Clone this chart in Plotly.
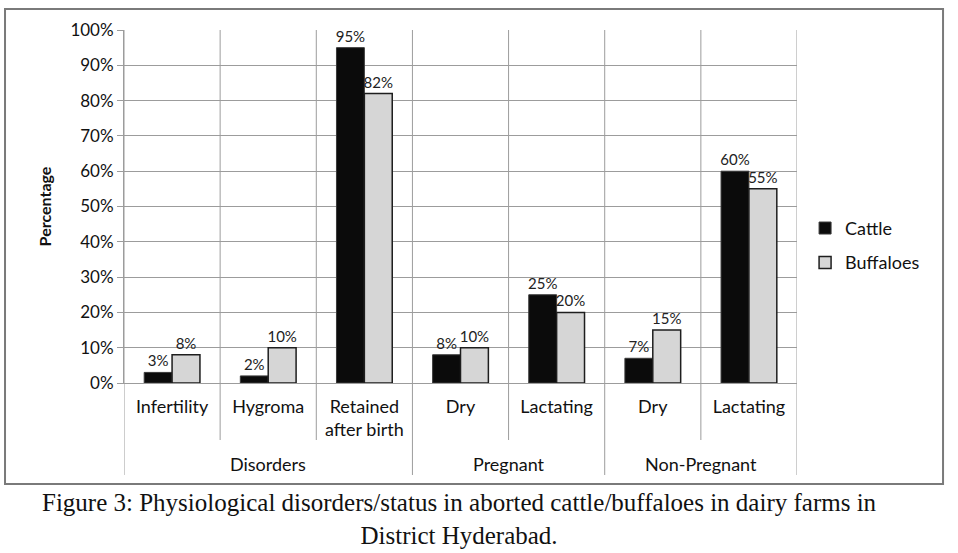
import plotly.graph_objects as go

groups = ["Disorders", "Disorders", "Disorders", "Pregnant", "Pregnant", "Non-Pregnant", "Non-Pregnant"]
subcats = ["Infertility", "Hygroma", "Retained<br>after birth", "Dry", "Lactating", "Dry", "Lactating"]
cattle = [3, 2, 95, 8, 25, 7, 60]
buffaloes = [8, 10, 82, 10, 20, 15, 55]

caption = ("Figure 3: Physiological disorders/status in aborted cattle/buffaloes in dairy farms in"
           "<br>District Hyderabad.")

sans = "Lato, Liberation Sans, sans-serif"
serif = "Liberation Serif, DejaVu Serif, serif"
grid = "#9c9c9c"

pos = list(range(len(subcats)))

fig = go.Figure()
fig.add_trace(go.Bar(
    name="Cattle", x=pos, y=[v / 100 for v in cattle], legendgroup="cattle",
    text=[f"{v}%" for v in cattle], textposition="outside",
    marker=dict(color="#0b0b0b", line=dict(color="#3a3a3a", width=1)),
    textfont=dict(family=sans, size=15, color="#222"), cliponaxis=False,
))
fig.add_trace(go.Bar(
    name="Buffaloes", x=pos, y=[v / 100 for v in buffaloes], legendgroup="buffaloes",
    text=[f"{v}%" for v in buffaloes], textposition="outside",
    marker=dict(color="#d6d6d6", line=dict(color="#1e1e1e", width=1.5)),
    textfont=dict(family=sans, size=15, color="#222"), cliponaxis=False,
))

fig.update_layout(
    width=958, height=553,
    margin=dict(l=124, r=161, t=30, b=170, autoexpand=False),
    paper_bgcolor="white", plot_bgcolor="white",
    barmode="group", bargap=0.42, bargroupgap=0,
    font=dict(family=sans, size=17, color="#111"),
    showlegend=True,
    legend=dict(x=1.012, y=0.39, yanchor="middle", xanchor="left",
                font=dict(family=sans, size=18, color="#111"),
                itemwidth=30, tracegroupgap=8),
    uniformtext=dict(minsize=15, mode="show"),
)

fig.update_yaxes(
    range=[0, 1], dtick=0.1, tickformat=".0%",
    showgrid=True, gridcolor=grid, gridwidth=1,
    showline=True, linecolor=grid, linewidth=1,
    ticks="outside", ticklen=6, tickcolor=grid,
    tickfont=dict(family=sans, size=17, color="#111"),
    title=dict(text="<b>Percentage</b>", font=dict(family=sans, size=16, color="#111"), standoff=14),
    zeroline=False,
)
fig.update_xaxes(
    range=[-0.5, len(subcats) - 0.5],
    tickvals=pos, ticktext=subcats, ticks="",
    showgrid=False, zeroline=False,
    showline=True, linecolor=grid, linewidth=1,
    tickfont=dict(family=sans, size=18, color="#111"),
    ticklabelstandoff=7,
)

# category boundaries: short lines between sub-categories, long ones between groups
inner_end = -0.1615
group_end = -0.2606
bounds = [-0.5] + [i + 0.5 for i in range(len(subcats))]
for b in bounds:
    i = int(b - 0.5)
    is_group = b in (-0.5, len(subcats) - 0.5) or groups[i] != groups[i + 1]
    fig.add_shape(type="line", xref="x", yref="paper", x0=b, x1=b,
                  y0=group_end if is_group else inner_end, y1=1,
                  line=dict(color=grid, width=1), layer="below")

# group labels
seen = []
for g in groups:
    if g not in seen:
        seen.append(g)
for g in seen:
    idx = [i for i, v in enumerate(groups) if v == g]
    fig.add_annotation(text=g, xref="x", yref="paper", x=sum(idx) / len(idx), y=-0.229,
                       showarrow=False, yanchor="middle",
                       font=dict(family=sans, size=18, color="#111"))

# outer chart frame
fig.add_shape(type="rect", xref="paper", yref="paper",
              x0=-0.1768, x1=1.217, y0=-0.286, y1=1.0595,
              line=dict(color="#7a7a7a", width=2), fillcolor="rgba(0,0,0,0)", layer="below")

fig.add_annotation(text=caption, xref="paper", yref="paper", x=0.499, y=-0.384,
                   showarrow=False, yanchor="middle", align="center",
                   font=dict(family=serif, size=25, color="#111"))

fig.write_html("out.html", config={"displayModeBar": False},
               post_script="document.body.style.margin='0px';")
